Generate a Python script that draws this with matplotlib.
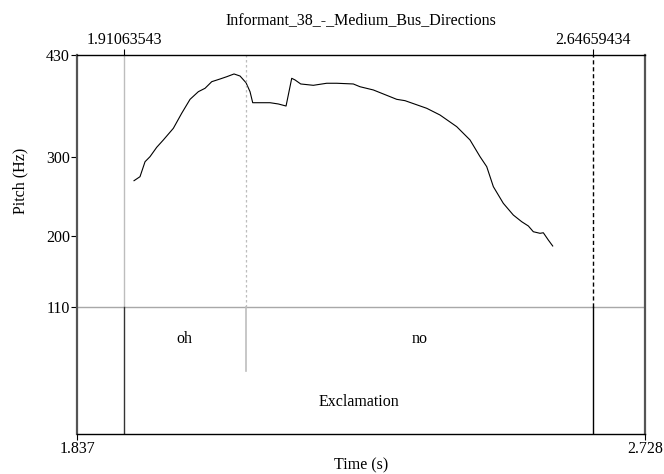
import numpy as np
import matplotlib.pyplot as plt
import matplotlib.transforms as mtransforms

plt.rcParams['font.family'] = ['Liberation Serif', 'DejaVu Serif']
plt.rcParams['font.size'] = 11.5

title = "Informant_38_-_Medium_Bus_Directions"

# pitch track (s, Hz)
time = np.array([1.9264, 1.9358, 1.9437, 1.9515, 1.9620, 1.9724, 1.9881, 2.0012,
                 2.0143, 2.0273, 2.0378, 2.0483, 2.0613, 2.0718, 2.0833, 2.0927,
                 2.1021, 2.1084, 2.1126, 2.1398, 2.1528, 2.1649, 2.1738, 2.1790,
                 2.1879, 2.2077, 2.2287, 2.2444, 2.2704, 2.2809, 2.3018, 2.3385,
                 2.3515, 2.3856, 2.4064, 2.4326, 2.4535, 2.4692, 2.4797, 2.4901,
                 2.5057, 2.5214, 2.5346, 2.5450, 2.5528, 2.5633, 2.5685, 2.5763,
                 2.5832])
pitch = np.array([270.4, 275.5, 294.5, 300.9, 312.8, 322.1, 336.9, 356.0,
                  373.7, 383.4, 387.7, 396.1, 399.5, 402.4, 405.9, 403.3,
                  394.8, 383.4, 369.4, 369.4, 367.8, 365.2, 400.4, 398.3,
                  393.2, 391.5, 394.1, 394.1, 393.2, 389.7, 385.6, 373.7,
                  372.0, 362.3, 353.8, 339.0, 322.1, 300.9, 288.2, 262.8,
                  241.7, 226.8, 218.3, 212.9, 205.6, 203.6, 204.3, 195.1,
                  187.5])

t_min, t_max = 1.837, 2.728
f_min, f_max = 110, 430
y_ticks = [110, 200, 300, 430]

sel_start, sel_end = 1.91063543, 2.64659434
word_bounds = [sel_start, 2.1015, sel_end]
words = ["oh", "no"]
phrase = "Exclamation"

# each textgrid tier takes this much room below the pitch area (in Hz units)
tier_h = 80.6
y_bottom = f_min - 2 * tier_h
tier_mid = f_min - tier_h

fig = plt.figure(figsize=(6.64, 4.74), dpi=100)
ax = fig.add_axes([0.116, 0.0844, 0.8554, 0.7996])
ax.set_xlim(t_min, t_max)
ax.set_ylim(y_bottom, f_max)

for s in ['top', 'bottom']:
    ax.spines[s].set_linewidth(1.0)
    ax.spines[s].set_color('black')
for s in ['left', 'right']:
    ax.spines[s].set_linewidth(1.6)
    ax.spines[s].set_color('#555555')

ax.plot(time, pitch, color='black', lw=0.8)

# pitch floor line
ax.axhline(f_min, color='#a8a8a8', lw=1.0)

# selection markers
ax.plot([sel_start, sel_start], [f_min, f_max], color='#bdbdbd', lw=1.0)
ax.plot([sel_start, sel_start], [y_bottom, f_min], color='#333333', lw=1.0)
ax.plot([sel_end, sel_end], [f_min, f_max], color='black', lw=1.0, ls=(0, (3, 2)))
ax.plot([sel_end, sel_end], [y_bottom, f_min], color='black', lw=1.0)

# word boundary
ax.plot([word_bounds[1]] * 2, [f_min, f_max], color='#bdbdbd', lw=0.9, ls=(0, (2, 2)))
ax.plot([word_bounds[1]] * 2, [tier_mid, f_min], color='#bdbdbd', lw=1.2)

for i, w in enumerate(words):
    ax.text((word_bounds[i] + word_bounds[i + 1]) / 2, f_min - tier_h / 2, w,
            ha='center', va='center')
ax.text((sel_start + sel_end) / 2, y_bottom + tier_h / 2, phrase,
        ha='center', va='center')

ax.set_yticks(y_ticks)
ax.set_yticklabels([str(v) for v in y_ticks])
ax.set_xticks([t_min, t_max])
ax.set_xticklabels(["1.837", "2.728"])
ax.tick_params(direction='out', length=4, width=0.8, pad=1)

top = ax.secondary_xaxis('top')
top.set_xticks([sel_start, sel_end])
top.set_xticklabels(["1.91063543", "2.64659434"])
top.tick_params(direction='out', length=4, width=0.8, pad=1)
top.spines['top'].set_visible(False)

ax.set_xlabel("Time (s)", labelpad=0)
trans = mtransforms.blended_transform_factory(fig.transFigure, ax.transData)
ax.text(0.03, (f_min + f_max) / 2, "Pitch (Hz)", rotation=90,
        ha='center', va='center', transform=trans)
fig.text(0.5437, 0.958, title, ha='center', va='center')

fig.savefig("out.png", dpi=100)
